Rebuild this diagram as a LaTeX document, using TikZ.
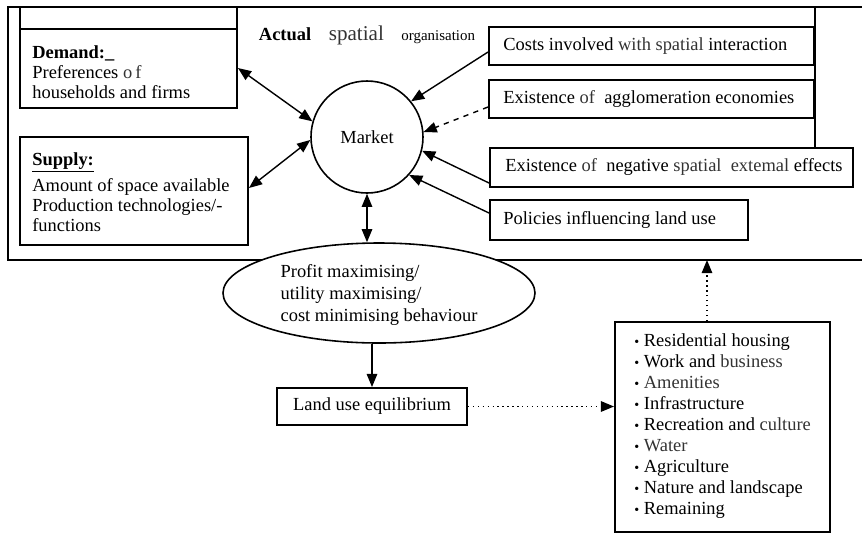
\documentclass[tikz,border=0pt]{standalone}
\usepackage{fontspec}
\setmainfont{Liberation Serif}
\usetikzlibrary{arrows.meta, calc, fit, shapes.geometric}
\newcommand{\lite}[1]{{\color{black!80}#1}}
\newcommand{\itm}{{\footnotesize\textbullet}\ }

\begin{document}
\begin{tikzpicture}[
    x=0.2mm, y=-0.2mm,
    >={Triangle[length=7.5pt,width=6pt]},
    every node/.style={font=\fontsize{10.5}{12}\selectfont},
    box/.style={draw, line width=1.1pt, inner sep=0pt},
    txt/.style={align=left, anchor=west, inner sep=0pt},
    rule/.style={line width=1.1pt},
    link/.style={->, line width=0.8pt},
    both/.style={<->, line width=0.8pt},
    dots/.style={->, line width=0.8pt, dotted},
]
\useasboundingbox (0,0) rectangle (862,534);
% the frame of the actual spatial organisation
\coordinate (framebot) at (707,260);
\draw[rule] (862,7) -- (8,7) -- (8,260) -- (862,260);
\node (title) at (367,35) {\textbf{Actual}\hspace{10pt}{\fontsize{12}{12}\selectfont\lite{spatial}}\hspace{10pt}{\fontsize{8.5}{9}\selectfont organisation}};
% demand and supply on the left
\node[box, fit={(20,7) (237,108)}] (demand) {};
\draw[rule] (demand.west|-0,29) -- (demand.east|-0,29);
\node[txt, font=\fontsize{10.5}{11.3}\selectfont] (demandtxt) at (32,72)
     {\textbf{Demand:\_}\\ Preferences \lite{o\,f}\\ households and firms};
\node[box, fit={(20,137) (248,245)}] (supply) {};
\node[txt, font=\fontsize{10.5}{11.3}\selectfont] (supplytxt) at (32,192)
     {\underline{\textbf{Supply:}}\\[2.5pt] Amount of space available\\ Production technologies/-\\ functions};
% the market
\node[circle, draw, line width=0.9pt, minimum size=2.24cm] (market) at (367,137) {Market};
% influences on the right
\node[box, fit={(489,27) (814,65)}] (costs) {};
\node[txt] (coststxt) at (503,46) {Costs involved \lite{with spatial} interaction};
\node[box, fit={(489,80) (814,118)}] (agglo) {};
\node[txt] (agglotxt) at (503,99) {Existence \lite{of}\ \ agglomeration economies};
\node[box, fit={(490,148) (853,187)}] (effects) {};
\node[txt] (effectstxt) at (505,167) {Existence \lite{of}\ \ negative \lite{spatial\ \ extemal} effects};
\node[box, fit={(490,200) (748,240)}] (policies) {};
\node[txt] (policiestxt) at (503,220) {Policies influencing land use};
\draw[rule] (costs.east|-0,7) -- (costs.east|-effects.north);
% behaviour, equilibrium and land uses
\node[ellipse, draw, line width=0.9pt, fill=white, minimum width=6.24cm, minimum height=2cm] (behav) at (379,293) {};
\node[txt, anchor=center, font=\fontsize{10.5}{12.5}\selectfont] (behavtxt) at (379,295)
     {Profit maximising/\\ utility maximising/\\ cost minimising behaviour};
\node[box, fit={(277,388) (467,425)}] (land) {};
\node (landtxt) at (land) {Land use equilibrium};
\node[box, fit={(615,322) (830,532)}] (uses) {};
\node[txt, font=\fontsize{10.5}{12}\selectfont] (usestxt) at (634,426)
     {\itm Residential housing\\ \itm Work and \lite{business}\\ \itm \lite{Amenities}\\
      \itm Infrastructure\\ \itm Recreation and \lite{culture}\\ \itm \lite{Water}\\
      \itm Agriculture\\ \itm Nature and landscape\\ \itm Remaining};
% connectors
\draw[both] (demand.east|-0,68) -- (market.164);
\draw[both] (supply.east|-0,188) -- (market.183);
\draw[link] (costs.west|-0,52) -- (market.39);
\draw[link, dashed] (agglo.west|-0,107) -- (market.5);
\draw[link] (effects.west|-0,183) -- (market.-14);
\draw[link] (policies.west|-0,213) -- (market.-42);
\draw[both] (market.south) -- (market.south|-behav.north);
\draw[link] (land.north|-behav.south) -- (land.north);
\draw[dots] (land.east) -- (uses.west|-land.east);
\draw[dots] (uses.north-|framebot) -- (framebot);
\end{tikzpicture}
\end{document}
